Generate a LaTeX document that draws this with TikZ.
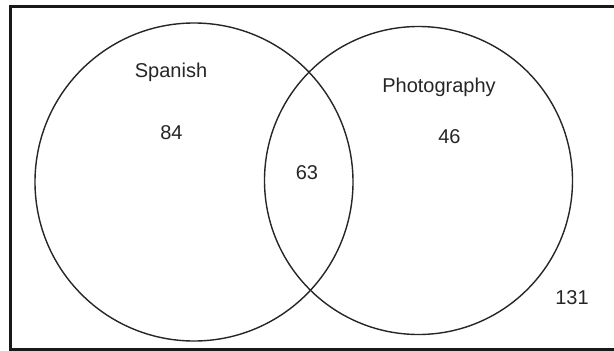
\documentclass[tikz,border=0pt]{standalone}
\usepackage{fontspec}
\setmainfont{Liberation Sans}
\begin{document}
\begin{tikzpicture}[x=1pt,y=-1pt,
  setcircle/.style={draw=black!85,line width=1.4pt},
  lbl/.style={font=\fontsize{20}{24}\selectfont,text=black!85,inner sep=0pt}]
\useasboundingbox (0,0) rectangle (614,351);
\fill[white] (0,0) rectangle (614,351);
\draw[line width=3pt,black!90] (620,6) -- (10.8,6) -- (10.8,349) -- (620,349);
\node[setcircle,circle,minimum size=318pt,inner sep=0pt] (spanish) at (194,182) {};
\node[setcircle,circle,minimum size=308pt,inner sep=0pt] (photo) at (418.5,180.5) {};
\node[lbl] (tspanish) at (171,72) {Spanish};
\node[lbl] (n84) at (171.5,133) {84};
\node[lbl] (tphoto) at (439,87) {Photography};
\node[lbl] (n46) at (449.5,137) {46};
\node[lbl] (n63) at (307,173) {63};
\node[lbl] (n131) at (572,298) {131};
\end{tikzpicture}
\end{document}
